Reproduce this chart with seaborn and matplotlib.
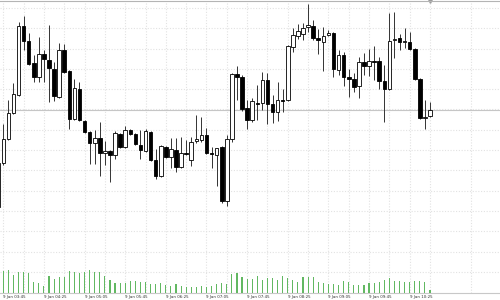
import numpy as np
import pandas as pd
import matplotlib
matplotlib.use("Agg")
import matplotlib.pyplot as plt
import seaborn as sns

# 5-minute bars, 9 Jan 03:40 .. 10:45 (prices in points)
opens = [93, 137, 161, 187, 205, 274, 259, 237, 223, 246, 240, 231, 203, 250, 229, 181, 211, 179, 168, 157,
         162, 147, 149, 145, 166, 153, 170, 166, 155, 149, 168, 140, 124, 153, 143, 150, 133, 147, 140, 159,
         160, 165, 147, 145, 153, 99, 161, 226, 223, 192, 180, 197, 197, 220, 196, 188, 200, 200, 253, 264,
         266, 273, 274, 262, 258, 265, 267, 230, 245, 223, 221, 214, 238, 234, 239, 239, 219, 211, 260, 262,
         258, 258, 251, 221, 182, 184]
highs = [140, 176, 200, 217, 278, 284, 267, 245, 263, 250, 275, 238, 257, 256, 230, 221, 218, 180, 169, 170,
         178, 159, 150, 169, 167, 174, 171, 167, 170, 171, 169, 151, 155, 154, 162, 162, 163, 160, 163, 185,
         183, 172, 153, 152, 154, 165, 227, 234, 225, 200, 202, 215, 228, 227, 205, 218, 211, 255, 272, 276,
         277, 296, 280, 271, 273, 270, 268, 250, 248, 231, 227, 243, 247, 251, 254, 243, 235, 287, 288, 266,
         272, 268, 252, 222, 200, 198]
lows = [90, 135, 160, 186, 204, 250, 235, 218, 218, 218, 198, 199, 202, 227, 171, 180, 179, 167, 136, 136,
        124, 135, 118, 141, 152, 152, 165, 155, 141, 148, 139, 121, 123, 142, 132, 128, 132, 145, 134, 157,
        158, 146, 132, 114, 97, 94, 158, 200, 189, 171, 178, 180, 190, 176, 177, 179, 188, 199, 248, 261,
        260, 268, 260, 246, 229, 264, 223, 225, 214, 203, 208, 202, 225, 224, 220, 211, 178, 210, 242, 250,
        252, 250, 220, 181, 171, 183]
closes = [137, 161, 187, 206, 274, 259, 236, 223, 246, 241, 232, 204, 250, 228, 181, 212, 180, 168, 157, 162,
          147, 149, 145, 167, 153, 170, 166, 156, 150, 169, 140, 124, 154, 143, 151, 133, 147, 146, 158, 161,
          165, 147, 146, 152, 99, 161, 226, 223, 191, 180, 199, 196, 220, 196, 188, 200, 199, 254, 265, 269,
          272, 275, 262, 260, 264, 267, 231, 245, 223, 221, 213, 238, 234, 239, 238, 219, 211, 259, 261, 258,
          259, 251, 221, 182, 183, 190]
volumes = [120, 217, 227, 177, 207, 210, 200, 113, 100, 73, 167, 140, 160, 160, 223, 207, 200, 207, 233, 207,
           207, 167, 133, 100, 100, 100, 117, 123, 110, 110, 93, 90, 100, 85, 73, 90, 67, 57, 60, 60,
           73, 60, 67, 90, 97, 87, 190, 200, 160, 140, 140, 167, 127, 150, 150, 127, 167, 150, 133, 110,
           157, 160, 157, 107, 100, 90, 90, 83, 117, 110, 77, 83, 83, 100, 100, 110, 133, 150, 123, 123,
           110, 110, 123, 117, 110, 33]
tick_labels = ["9 Jan 03:45", "9 Jan 04:25", "9 Jan 05:05", "9 Jan 05:45", "9 Jan 06:25", "9 Jan 07:05",
               "9 Jan 07:45", "9 Jan 08:25", "9 Jan 09:05", "9 Jan 09:45", "9 Jan 10:25"]
bid_price = 190

sns.set_style("white")
plt.rcParams['font.family'] = ['DejaVu Sans']

df = pd.DataFrame({"x": np.arange(len(opens)) - 1, "o": opens, "h": highs,
                   "l": lows, "c": closes, "v": volumes})
up = df["c"] >= df["o"]

fig, ax = plt.subplots(figsize=(5, 3), dpi=100)
fig.subplots_adjust(left=0, right=1, bottom=7 / 300, top=299 / 300)

# volume (twin axis, bottom strip)
ax2 = ax.twinx()
sns.barplot(data=df, x="x", y="v", native_scale=True, color="#62b862", saturation=1,
            width=0.22, linewidth=0, ax=ax2, zorder=1)
ax2.set_ylim(0, 2920)
ax2.set_yticks([])
ax2.set_ylabel("")
ax2.set_xlabel("")
for s in ax2.spines.values():
    s.set_visible(False)

# candles
ax.vlines(df["x"], df["l"], df["h"], color="#333333", lw=0.7, zorder=2)
body = (df["c"] - df["o"]).abs().clip(lower=0.8)
ax.bar(df["x"], body, bottom=np.minimum(df["o"], df["c"]), width=0.7,
       color=np.where(up, "white", "black"), edgecolor="black", linewidth=0.6, zorder=3)

ax.axhline(bid_price, color="#c6c6c6", lw=0.8, zorder=1)

ax.set_ylim(7, 299)
ax.set_xlim(-0.65, 97.78)
ax.set_yticks(np.arange(28.1, 299, 20.3))
ax.yaxis.grid(True, ls=(0, (1, 1.5)), color="#e2e2e2", lw=0.8)
ax.set_xticks(np.arange(0, 85, 8))
ax.set_xticks(np.arange(4, 98, 8), minor=True)
ax.xaxis.grid(True, which="both", ls=(0, (1, 1.5)), color="#e2e2e2", lw=0.8)
ax.set_xticklabels(tick_labels, fontsize=2.9, ha="left", color="#333333")
ax.tick_params(axis="x", which="both", length=0, pad=1.2)
ax.tick_params(axis="y", left=False, labelleft=False)
ax.set_axisbelow(True)
ax.set_xlabel("")
ax.set_ylabel("")

for side in ("left", "right"):
    ax.spines[side].set_visible(False)
ax.spines["top"].set_color("#b4b4b4")
ax.spines["top"].set_linewidth(0.8)
ax.spines["bottom"].set_color("#c8c8c8")
ax.spines["bottom"].set_linewidth(0.8)

# chart-shift marker
ax.plot([df["x"].iloc[-1]], [1.0], marker="v", ms=2.5, color="#9a9a9a",
        transform=ax.get_xaxis_transform(), clip_on=False)

fig.savefig("out.png", dpi=100)
